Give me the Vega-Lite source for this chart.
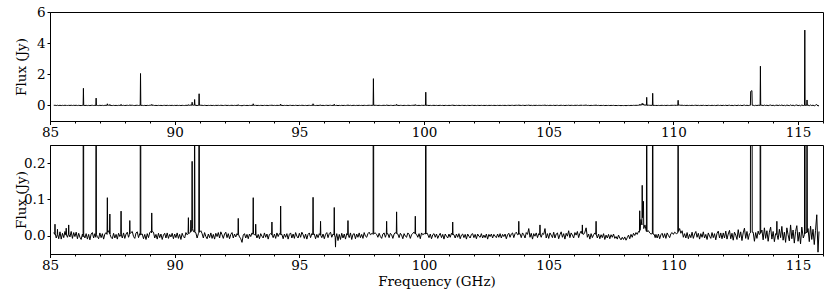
{
"$schema": "https://vega.github.io/schema/vega-lite/v6.json",
"padding": {"left": 13, "right": 4, "top": 4, "bottom": 2},
"spacing": 5,
"data": {"values": [
{"f":85.15,"y":0.009},{"f":85.19,"y":0.004},{"f":85.2,"y":0.032},{"f":85.21,"y":0.006},{"f":85.25,"y":-0.006},{"f":85.29,"y":0.003},{"f":85.3,"y":0.018},{"f":85.31,"y":0.004},{"f":85.35,"y":-0.008},{"f":85.4,"y":0.011},{"f":85.45,"y":-0.009},{"f":85.5,"y":0.007},{"f":85.55,"y":-0.005},{"f":85.6,"y":0.012},{"f":85.64,"y":0.002},{"f":85.65,"y":0.021},{"f":85.66,"y":0.003},{"f":85.7,"y":-0.004},{"f":85.74,"y":0.005},{"f":85.75,"y":0.03},{"f":85.76,"y":0.004},{"f":85.8,"y":-0.003},{"f":85.85,"y":0.012},{"f":85.9,"y":-0.007},{"f":85.95,"y":0.009},
{"f":86,"y":-0.002},{"f":86.05,"y":0.01},{"f":86.1,"y":-0.008},{"f":86.15,"y":0.007},{"f":86.2,"y":-0.004},{"f":86.25,"y":-0.01},{"f":86.3,"y":0.005},{"f":86.328,"y":-0.003},{"f":86.34,"y":1.1},{"f":86.352,"y":0.002},{"f":86.4,"y":-0.006},{"f":86.45,"y":0.006},{"f":86.5,"y":-0.009},{"f":86.55,"y":0.004},{"f":86.6,"y":-0.011},{"f":86.65,"y":0.005},{"f":86.7,"y":0.009},{"f":86.75,"y":-0.006},{"f":86.8,"y":0.006},{"f":86.838,"y":-0.004},{"f":86.85,"y":0.47},{"f":86.862,"y":0.003},{"f":86.9,"y":-0.002},{"f":86.95,"y":-0.008},
{"f":87,"y":0.008},{"f":87.05,"y":-0.005},{"f":87.1,"y":0.006},{"f":87.15,"y":-0.009},{"f":87.2,"y":0.005},{"f":87.25,"y":0.009},{"f":87.288,"y":0.004},{"f":87.3,"y":0.105},{"f":87.312,"y":0.01},{"f":87.35,"y":0.014},{"f":87.388,"y":0.006},{"f":87.4,"y":0.06},{"f":87.412,"y":0.003},{"f":87.45,"y":-0.004},{"f":87.5,"y":-0.008},{"f":87.55,"y":0.007},{"f":87.6,"y":-0.006},{"f":87.65,"y":0.004},{"f":87.7,"y":-0.009},{"f":87.75,"y":0.007},{"f":87.8,"y":-0.002},{"f":87.838,"y":0.003},{"f":87.85,"y":0.068},{"f":87.862,"y":0.002},{"f":87.9,"y":-0.006},{"f":87.95,"y":0.008},
{"f":88,"y":-0.007},{"f":88.05,"y":0.005},{"f":88.1,"y":0.01},{"f":88.15,"y":-0.004},{"f":88.188,"y":0.004},{"f":88.2,"y":0.042},{"f":88.212,"y":0.006},{"f":88.25,"y":0.009},{"f":88.3,"y":0.012},{"f":88.35,"y":-0.002},{"f":88.4,"y":-0.007},{"f":88.45,"y":0.008},{"f":88.5,"y":0.011},{"f":88.55,"y":-0.005},{"f":88.6,"y":0.006},{"f":88.618,"y":0.002},{"f":88.63,"y":2.05},{"f":88.642,"y":0.004},{"f":88.7,"y":0.005},{"f":88.75,"y":-0.008},{"f":88.8,"y":0.004},{"f":88.85,"y":-0.01},{"f":88.9,"y":0.006},{"f":88.95,"y":-0.005},
{"f":89,"y":0.009},{"f":89.04,"y":0.012},{"f":89.068,"y":0.008},{"f":89.08,"y":0.063},{"f":89.092,"y":0.012},{"f":89.15,"y":0.01},{"f":89.2,"y":-0.006},{"f":89.25,"y":0.004},{"f":89.3,"y":-0.009},{"f":89.35,"y":0.007},{"f":89.4,"y":-0.005},{"f":89.45,"y":0.005},{"f":89.5,"y":-0.01},{"f":89.55,"y":0.002},{"f":89.6,"y":0.007},{"f":89.65,"y":-0.006},{"f":89.7,"y":0.008},{"f":89.75,"y":-0.007},{"f":89.8,"y":0.004},{"f":89.85,"y":-0.003},{"f":89.9,"y":0.007},{"f":89.95,"y":-0.008},
{"f":90,"y":0.005},{"f":90.05,"y":-0.005},{"f":90.1,"y":0.008},{"f":90.15,"y":-0.007},{"f":90.2,"y":0.004},{"f":90.25,"y":-0.01},{"f":90.3,"y":0.007},{"f":90.35,"y":-0.002},{"f":90.4,"y":-0.006},{"f":90.45,"y":0.009},{"f":90.5,"y":0.003},{"f":90.538,"y":0.006},{"f":90.55,"y":0.05},{"f":90.562,"y":0.006},{"f":90.6,"y":0.008},{"f":90.638,"y":0.01},{"f":90.65,"y":0.043},{"f":90.662,"y":0.012},{"f":90.688,"y":0.015},{"f":90.7,"y":0.205},{"f":90.712,"y":0.02},{"f":90.75,"y":0.012},{"f":90.788,"y":0.01},{"f":90.8,"y":0.38},{"f":90.812,"y":0.012},{"f":90.85,"y":0.008},{"f":90.9,"y":-0.006},{"f":90.95,"y":0.006},{"f":90.968,"y":0.008},{"f":90.98,"y":0.75},{"f":90.992,"y":0.01},
{"f":91.05,"y":0.014},{"f":91.1,"y":0.006},{"f":91.15,"y":-0.006},{"f":91.2,"y":0.009},{"f":91.25,"y":-0.002},{"f":91.3,"y":-0.008},{"f":91.35,"y":0.005},{"f":91.4,"y":-0.005},{"f":91.45,"y":0.008},{"f":91.5,"y":-0.007},{"f":91.55,"y":0.004},{"f":91.6,"y":-0.009},{"f":91.65,"y":0.007},{"f":91.7,"y":-0.002},{"f":91.75,"y":0.009},{"f":91.8,"y":-0.006},{"f":91.85,"y":0.011},{"f":91.9,"y":0.003},{"f":91.95,"y":-0.007},
{"f":92,"y":0.005},{"f":92.05,"y":0.01},{"f":92.1,"y":-0.005},{"f":92.15,"y":0.006},{"f":92.2,"y":-0.008},{"f":92.25,"y":0.004},{"f":92.3,"y":0.009},{"f":92.35,"y":-0.006},{"f":92.4,"y":0.005},{"f":92.45,"y":-0.003},{"f":92.5,"y":0.006},{"f":92.538,"y":0.002},{"f":92.55,"y":0.048},{"f":92.562,"y":0.004},{"f":92.6,"y":-0.003},{"f":92.65,"y":-0.008},{"f":92.7,"y":-0.018},{"f":92.75,"y":0.002},{"f":92.8,"y":0.006},{"f":92.85,"y":-0.006},{"f":92.9,"y":0.004},{"f":92.95,"y":-0.008},
{"f":93,"y":0.005},{"f":93.05,"y":-0.002},{"f":93.1,"y":0.008},{"f":93.138,"y":0.004},{"f":93.15,"y":0.105},{"f":93.162,"y":0.006},{"f":93.2,"y":0.003},{"f":93.238,"y":0.002},{"f":93.25,"y":0.032},{"f":93.262,"y":0.003},{"f":93.3,"y":-0.006},{"f":93.35,"y":0.004},{"f":93.4,"y":-0.008},{"f":93.45,"y":0.006},{"f":93.5,"y":-0.001},{"f":93.55,"y":-0.006},{"f":93.6,"y":0.008},{"f":93.65,"y":-0.004},{"f":93.7,"y":0.005},{"f":93.75,"y":-0.009},{"f":93.8,"y":0.004},{"f":93.85,"y":0.006},{"f":93.888,"y":0.003},{"f":93.9,"y":0.038},{"f":93.912,"y":0.002},{"f":93.95,"y":-0.005},
{"f":94,"y":0.005},{"f":94.05,"y":-0.007},{"f":94.1,"y":0.008},{"f":94.15,"y":-0.002},{"f":94.2,"y":0.006},{"f":94.238,"y":0.004},{"f":94.25,"y":0.082},{"f":94.262,"y":0.003},{"f":94.3,"y":0.004},{"f":94.35,"y":-0.008},{"f":94.4,"y":0.005},{"f":94.45,"y":-0.004},{"f":94.5,"y":0.006},{"f":94.55,"y":-0.009},{"f":94.6,"y":0.004},{"f":94.65,"y":0.008},{"f":94.7,"y":-0.006},{"f":94.75,"y":0.005},{"f":94.8,"y":-0.007},{"f":94.85,"y":0.009},{"f":94.9,"y":-0.001},{"f":94.95,"y":-0.006},
{"f":95,"y":0.007},{"f":95.05,"y":-0.004},{"f":95.1,"y":0.01},{"f":95.15,"y":0.003},{"f":95.2,"y":-0.007},{"f":95.25,"y":0.005},{"f":95.3,"y":-0.009},{"f":95.35,"y":0.004},{"f":95.4,"y":0.008},{"f":95.45,"y":-0.005},{"f":95.5,"y":0.006},{"f":95.538,"y":0.003},{"f":95.55,"y":0.106},{"f":95.562,"y":0.004},{"f":95.6,"y":0.005},{"f":95.65,"y":-0.008},{"f":95.7,"y":0.004},{"f":95.75,"y":-0.005},{"f":95.8,"y":0.006},{"f":95.838,"y":0.002},{"f":95.85,"y":0.04},{"f":95.862,"y":0.001},{"f":95.9,"y":-0.005},{"f":95.95,"y":0.005},
{"f":96,"y":-0.008},{"f":96.05,"y":0.004},{"f":96.1,"y":0.009},{"f":96.15,"y":-0.005},{"f":96.2,"y":0.006},{"f":96.25,"y":0.01},{"f":96.3,"y":-0.004},{"f":96.35,"y":0.005},{"f":96.388,"y":0.003},{"f":96.4,"y":0.078},{"f":96.412,"y":0.002},{"f":96.438,"y":-0.004},{"f":96.45,"y":-0.031},{"f":96.462,"y":-0.006},{"f":96.5,"y":0.006},{"f":96.55,"y":-0.013},{"f":96.6,"y":0.004},{"f":96.65,"y":-0.01},{"f":96.7,"y":0.007},{"f":96.75,"y":-0.006},{"f":96.8,"y":0.005},{"f":96.85,"y":-0.009},{"f":96.9,"y":0.006},{"f":96.938,"y":0.003},{"f":96.95,"y":0.042},{"f":96.962,"y":0.002},
{"f":97,"y":-0.005},{"f":97.05,"y":0.008},{"f":97.1,"y":-0.01},{"f":97.15,"y":0.004},{"f":97.2,"y":0.006},{"f":97.25,"y":-0.008},{"f":97.3,"y":0.005},{"f":97.35,"y":-0.004},{"f":97.4,"y":0.008},{"f":97.45,"y":-0.005},{"f":97.5,"y":0.004},{"f":97.55,"y":-0.007},{"f":97.6,"y":0.009},{"f":97.65,"y":-0.001},{"f":97.7,"y":-0.004},{"f":97.75,"y":0.006},{"f":97.8,"y":0.01},{"f":97.85,"y":0.003},{"f":97.92,"y":0.007},{"f":97.958,"y":0.004},{"f":97.97,"y":1.72},{"f":97.982,"y":0.006},
{"f":98.04,"y":0.008},{"f":98.1,"y":0.004},{"f":98.15,"y":-0.004},{"f":98.2,"y":0.007},{"f":98.25,"y":-0.002},{"f":98.3,"y":-0.007},{"f":98.35,"y":0.005},{"f":98.4,"y":0.008},{"f":98.45,"y":-0.004},{"f":98.488,"y":0.004},{"f":98.5,"y":0.04},{"f":98.512,"y":0.005},{"f":98.55,"y":0.006},{"f":98.6,"y":-0.005},{"f":98.65,"y":0.007},{"f":98.7,"y":0.003},{"f":98.75,"y":-0.007},{"f":98.8,"y":0.005},{"f":98.85,"y":0.009},{"f":98.888,"y":0.006},{"f":98.9,"y":0.066},{"f":98.912,"y":0.007},{"f":98.95,"y":0.005},
{"f":99,"y":-0.005},{"f":99.05,"y":0.007},{"f":99.1,"y":0.002},{"f":99.15,"y":-0.008},{"f":99.2,"y":0.006},{"f":99.25,"y":-0.001},{"f":99.3,"y":-0.004},{"f":99.35,"y":0.008},{"f":99.4,"y":0.004},{"f":99.45,"y":-0.007},{"f":99.5,"y":0.003},{"f":99.55,"y":0.007},{"f":99.6,"y":0.01},{"f":99.638,"y":0.006},{"f":99.65,"y":0.054},{"f":99.662,"y":0.005},{"f":99.7,"y":0.004},{"f":99.75,"y":-0.004},{"f":99.8,"y":0.006},{"f":99.85,"y":-0.008},{"f":99.9,"y":0.008},{"f":99.95,"y":0.003},
{"f":100.01,"y":0.006},{"f":100.058,"y":0.005},{"f":100.07,"y":0.85},{"f":100.082,"y":0.006},{"f":100.13,"y":0.007},{"f":100.2,"y":-0.005},{"f":100.25,"y":0.005},{"f":100.3,"y":-0.008},{"f":100.35,"y":0.003},{"f":100.4,"y":0.006},{"f":100.45,"y":-0.004},{"f":100.5,"y":0.005},{"f":100.55,"y":-0.007},{"f":100.6,"y":0.001},{"f":100.65,"y":0.007},{"f":100.7,"y":-0.005},{"f":100.75,"y":0.004},{"f":100.8,"y":-0.009},{"f":100.85,"y":0.005},{"f":100.9,"y":-0.001},{"f":100.95,"y":-0.006},
{"f":101,"y":0.005},{"f":101.05,"y":-0.004},{"f":101.1,"y":0.007},{"f":101.138,"y":0.003},{"f":101.15,"y":0.038},{"f":101.162,"y":0.004},{"f":101.2,"y":0.003},{"f":101.25,"y":-0.006},{"f":101.3,"y":0.005},{"f":101.35,"y":-0.004},{"f":101.4,"y":0.006},{"f":101.45,"y":-0.008},{"f":101.5,"y":0.002},{"f":101.55,"y":0.005},{"f":101.6,"y":-0.005},{"f":101.65,"y":0.004},{"f":101.7,"y":-0.009},{"f":101.75,"y":0.005},{"f":101.8,"y":-0.001},{"f":101.85,"y":-0.006},{"f":101.9,"y":0.004},{"f":101.95,"y":0.006},
{"f":102,"y":-0.005},{"f":102.05,"y":0.004},{"f":102.1,"y":-0.008},{"f":102.15,"y":0.005},{"f":102.2,"y":-0.001},{"f":102.25,"y":-0.004},{"f":102.3,"y":0.006},{"f":102.35,"y":-0.006},{"f":102.4,"y":0.002},{"f":102.45,"y":-0.005},{"f":102.5,"y":0.005},{"f":102.55,"y":-0.009},{"f":102.6,"y":0.004},{"f":102.65,"y":-0.002},{"f":102.7,"y":0.005},{"f":102.75,"y":-0.006},{"f":102.8,"y":0.004},{"f":102.85,"y":-0.001},{"f":102.9,"y":-0.005},{"f":102.95,"y":0.005},
{"f":103,"y":-0.004},{"f":103.05,"y":0.006},{"f":103.1,"y":-0.006},{"f":103.15,"y":0.004},{"f":103.2,"y":-0.002},{"f":103.25,"y":0.005},{"f":103.3,"y":-0.008},{"f":103.35,"y":0.003},{"f":103.4,"y":0.007},{"f":103.45,"y":-0.004},{"f":103.5,"y":0.005},{"f":103.55,"y":0.008},{"f":103.6,"y":-0.005},{"f":103.65,"y":0.006},{"f":103.7,"y":0.01},{"f":103.75,"y":0.003},{"f":103.788,"y":0.004},{"f":103.8,"y":0.04},{"f":103.812,"y":0.005},{"f":103.85,"y":0.006},{"f":103.9,"y":-0.005},{"f":103.95,"y":0.008},
{"f":104,"y":0.003},{"f":104.05,"y":-0.006},{"f":104.1,"y":0.009},{"f":104.15,"y":0.004},{"f":104.2,"y":0.02},{"f":104.25,"y":-0.004},{"f":104.3,"y":0.007},{"f":104.35,"y":-0.009},{"f":104.4,"y":0.006},{"f":104.45,"y":-0.001},{"f":104.5,"y":0.008},{"f":104.55,"y":-0.005},{"f":104.6,"y":0.006},{"f":104.638,"y":0.003},{"f":104.65,"y":0.03},{"f":104.662,"y":0.002},{"f":104.7,"y":-0.004},{"f":104.75,"y":0.007},{"f":104.8,"y":0.004},{"f":104.85,"y":0.02},{"f":104.9,"y":-0.006},{"f":104.95,"y":0.006},
{"f":105,"y":-0.007},{"f":105.05,"y":0.008},{"f":105.1,"y":0.002},{"f":105.15,"y":-0.005},{"f":105.2,"y":0.01},{"f":105.25,"y":-0.006},{"f":105.3,"y":0.005},{"f":105.35,"y":0.008},{"f":105.4,"y":-0.008},{"f":105.45,"y":0.003},{"f":105.5,"y":0.011},{"f":105.55,"y":-0.004},{"f":105.6,"y":0.006},{"f":105.65,"y":-0.009},{"f":105.7,"y":0.007},{"f":105.75,"y":-0.001},{"f":105.8,"y":0.014},{"f":105.85,"y":-0.005},{"f":105.9,"y":0.008},{"f":105.95,"y":0.002},
{"f":106,"y":-0.006},{"f":106.05,"y":0.009},{"f":106.1,"y":0.002},{"f":106.15,"y":0.012},{"f":106.2,"y":-0.005},{"f":106.25,"y":0.007},{"f":106.3,"y":0.013},{"f":106.338,"y":0.006},{"f":106.35,"y":0.03},{"f":106.362,"y":0.005},{"f":106.4,"y":0.004},{"f":106.45,"y":0.01},{"f":106.5,"y":0.022},{"f":106.55,"y":-0.004},{"f":106.6,"y":0.005},{"f":106.65,"y":-0.009},{"f":106.7,"y":0.006},{"f":106.75,"y":-0.005},{"f":106.8,"y":0.003},{"f":106.85,"y":0.008},{"f":106.888,"y":0.004},{"f":106.9,"y":0.04},{"f":106.912,"y":0.003},{"f":106.95,"y":-0.006},
{"f":107,"y":0.005},{"f":107.05,"y":-0.008},{"f":107.1,"y":0.003},{"f":107.15,"y":-0.005},{"f":107.2,"y":0.006},{"f":107.25,"y":-0.01},{"f":107.3,"y":0.002},{"f":107.35,"y":-0.006},{"f":107.4,"y":0.004},{"f":107.45,"y":-0.008},{"f":107.5,"y":0.003},{"f":107.55,"y":-0.004},{"f":107.6,"y":0.005},{"f":107.65,"y":-0.007},{"f":107.7,"y":-0.002},{"f":107.75,"y":-0.009},{"f":107.8,"y":0.002},{"f":107.85,"y":-0.006},{"f":107.9,"y":-0.011},{"f":107.95,"y":-0.004},
{"f":108,"y":-0.01},{"f":108.05,"y":-0.003},{"f":108.1,"y":-0.012},{"f":108.15,"y":-0.005},{"f":108.2,"y":0.002},{"f":108.25,"y":-0.008},{"f":108.3,"y":0.004},{"f":108.35,"y":-0.004},{"f":108.4,"y":0.007},{"f":108.45,"y":0.001},{"f":108.5,"y":0.009},{"f":108.55,"y":0.004},{"f":108.6,"y":0.012},{"f":108.638,"y":0.01},{"f":108.65,"y":0.069},{"f":108.662,"y":0.015},{"f":108.7,"y":0.045},{"f":108.738,"y":0.03},{"f":108.75,"y":0.139},{"f":108.762,"y":0.05},{"f":108.8,"y":0.095},{"f":108.812,"y":0.02},{"f":108.86,"y":0.03},{"f":108.918,"y":0.012},{"f":108.93,"y":0.52},{"f":108.942,"y":0.012},
{"f":109,"y":0.014},{"f":109.05,"y":0.008},{"f":109.1,"y":0.005},{"f":109.158,"y":0.006},{"f":109.17,"y":0.78},{"f":109.182,"y":0.005},{"f":109.23,"y":0.004},{"f":109.27,"y":-0.005},{"f":109.3,"y":0.004},{"f":109.35,"y":-0.006},{"f":109.4,"y":0.005},{"f":109.45,"y":-0.008},{"f":109.5,"y":0.003},{"f":109.55,"y":0.007},{"f":109.6,"y":-0.005},{"f":109.65,"y":0.006},{"f":109.7,"y":-0.007},{"f":109.75,"y":0.008},{"f":109.8,"y":0.001},{"f":109.85,"y":-0.005},{"f":109.9,"y":0.006},{"f":109.95,"y":0.009},
{"f":110,"y":0.004},{"f":110.05,"y":0.01},{"f":110.12,"y":0.006},{"f":110.178,"y":0.008},{"f":110.19,"y":0.33},{"f":110.202,"y":0.012},{"f":110.25,"y":0.02},{"f":110.3,"y":0.007},{"f":110.35,"y":0.014},{"f":110.4,"y":-0.004},{"f":110.45,"y":0.006},{"f":110.5,"y":-0.006},{"f":110.55,"y":0.009},{"f":110.6,"y":-0.008},{"f":110.65,"y":0.004},{"f":110.7,"y":-0.005},{"f":110.75,"y":0.01},{"f":110.8,"y":-0.007},{"f":110.85,"y":0.005},{"f":110.9,"y":0.012},{"f":110.95,"y":-0.004},
{"f":111,"y":0.007},{"f":111.05,"y":-0.009},{"f":111.1,"y":0.006},{"f":111.15,"y":-0.004},{"f":111.2,"y":0.011},{"f":111.25,"y":-0.006},{"f":111.3,"y":0.004},{"f":111.35,"y":-0.01},{"f":111.4,"y":0.008},{"f":111.45,"y":-0.001},{"f":111.5,"y":-0.007},{"f":111.55,"y":0.009},{"f":111.6,"y":-0.005},{"f":111.65,"y":0.006},{"f":111.7,"y":-0.011},{"f":111.75,"y":0.007},{"f":111.8,"y":0.013},{"f":111.85,"y":-0.006},{"f":111.9,"y":0.008},{"f":111.95,"y":-0.008},
{"f":112,"y":0.008},{"f":112.05,"y":-0.006},{"f":112.1,"y":0.013},{"f":112.15,"y":-0.009},{"f":112.2,"y":0.005},{"f":112.25,"y":0.015},{"f":112.3,"y":-0.008},{"f":112.35,"y":0.007},{"f":112.4,"y":-0.012},{"f":112.45,"y":0.01},{"f":112.5,"y":0.002},{"f":112.55,"y":-0.01},{"f":112.6,"y":0.017},{"f":112.65,"y":-0.005},{"f":112.7,"y":0.011},{"f":112.75,"y":-0.013},{"f":112.8,"y":0.008},{"f":112.85,"y":0.021},{"f":112.9,"y":-0.007},{"f":112.95,"y":0.012},
{"f":113,"y":-0.01},{"f":113.05,"y":0.006},{"f":113.088,"y":0.008},{"f":113.1,"y":0.9},{"f":113.15,"y":0.95},{"f":113.162,"y":0.01},{"f":113.2,"y":0.01},{"f":113.25,"y":-0.015},{"f":113.3,"y":0.009},{"f":113.35,"y":-0.007},{"f":113.4,"y":0.013},{"f":113.44,"y":0.004},{"f":113.478,"y":0.005},{"f":113.49,"y":2.52},{"f":113.502,"y":0.008},{"f":113.55,"y":0.016},{"f":113.6,"y":-0.011},{"f":113.65,"y":0.022},{"f":113.7,"y":-0.007},{"f":113.75,"y":0.014},{"f":113.8,"y":-0.015},{"f":113.85,"y":0.01},{"f":113.9,"y":0.024},{"f":113.95,"y":-0.009},
{"f":114,"y":0.012},{"f":114.05,"y":-0.016},{"f":114.1,"y":0.006},{"f":114.138,"y":0.004},{"f":114.15,"y":0.04},{"f":114.162,"y":0.002},{"f":114.2,"y":-0.01},{"f":114.25,"y":0.018},{"f":114.3,"y":-0.005},{"f":114.35,"y":0.026},{"f":114.4,"y":-0.012},{"f":114.45,"y":0.01},{"f":114.5,"y":-0.018},{"f":114.55,"y":0.022},{"f":114.6,"y":0.003},{"f":114.65,"y":-0.014},{"f":114.7,"y":0.03},{"f":114.75,"y":-0.008},{"f":114.8,"y":0.016},{"f":114.85,"y":-0.02},{"f":114.9,"y":0.012},{"f":114.95,"y":0.028},
{"f":115,"y":-0.015},{"f":115.05,"y":0.01},{"f":115.1,"y":-0.022},{"f":115.15,"y":0.024},{"f":115.21,"y":-0.006},{"f":115.258,"y":0.004},{"f":115.27,"y":4.84},{"f":115.282,"y":0.006},{"f":115.32,"y":0.01},{"f":115.348,"y":0.008},{"f":115.36,"y":0.35},{"f":115.372,"y":0.01},{"f":115.4,"y":0.02},{"f":115.45,"y":-0.016},{"f":115.5,"y":0.027},{"f":115.55,"y":-0.01},{"f":115.6,"y":0.018},{"f":115.65,"y":-0.024},{"f":115.7,"y":0.015},{"f":115.75,"y":0.058},{"f":115.8,"y":-0.045},{"f":115.84,"y":0.012}
]},
"vconcat": [
{
"width": 773, "height": 109,
"mark": {"type": "line", "color": "black", "strokeWidth": 1, "clip": true},
"encoding": {
"x": {"field": "f", "type": "quantitative", "scale": {"domain": [85, 116], "nice": false, "zero": false},
"axis": {"title": null, "values": [85,86,87,88,89,90,91,92,93,94,95,96,97,98,99,100,101,102,103,104,105,106,107,108,109,110,111,112,113,114,115,116],
"labelExpr": "datum.value % 5 === 0 ? datum.label : ''",
"tickSize": {"condition": {"test": "datum.value % 5 === 0", "value": 3.5}, "value": 2},
"labelPadding": 0.5, "labelFlush": false, "labelOverlap": false}},
"y": {"field": "y", "type": "quantitative", "scale": {"domain": [-1, 6], "nice": false, "zero": false},
"axis": {"title": "Flux (Jy)", "values": [0, 2, 4, 6], "format": "d", "tickSize": 3, "labelPadding": 2,
"titleX": -29, "titleY": 54.5, "titleAngle": -90, "titleAlign": "center", "titleBaseline": "middle"}}
}
},
{
"width": 773, "height": 109,
"mark": {"type": "line", "color": "black", "strokeWidth": 1, "clip": true},
"encoding": {
"x": {"field": "f", "type": "quantitative", "scale": {"domain": [85, 116], "nice": false, "zero": false},
"axis": {"title": "Frequency (GHz)", "values": [85,86,87,88,89,90,91,92,93,94,95,96,97,98,99,100,101,102,103,104,105,106,107,108,109,110,111,112,113,114,115,116],
"labelExpr": "datum.value % 5 === 0 ? datum.label : ''",
"tickSize": {"condition": {"test": "datum.value % 5 === 0", "value": 3.5}, "value": 2},
"labelPadding": 0.5, "labelFlush": false, "labelOverlap": false, "titlePadding": 3}},
"y": {"field": "y", "type": "quantitative", "scale": {"domain": [-0.05, 0.25], "nice": false, "zero": false},
"axis": {"title": "Flux (Jy)", "values": [0, 0.1, 0.2], "format": ".1f", "tickSize": 3, "labelPadding": 2,
"titleX": -29, "titleY": 54.5, "titleAngle": -90, "titleAlign": "center", "titleBaseline": "middle"}}
}
}
],
"config": {
"view": {"stroke": "black", "strokeWidth": 1},
"axis": {"labelFont": "DejaVu Serif", "titleFont": "DejaVu Serif", "labelFontSize": 13.5, "titleFontSize": 13.5, "titleFontWeight": "normal", "labelColor": "black", "titleColor": "black", "domainColor": "black", "tickColor": "black", "grid": false}
}
}
